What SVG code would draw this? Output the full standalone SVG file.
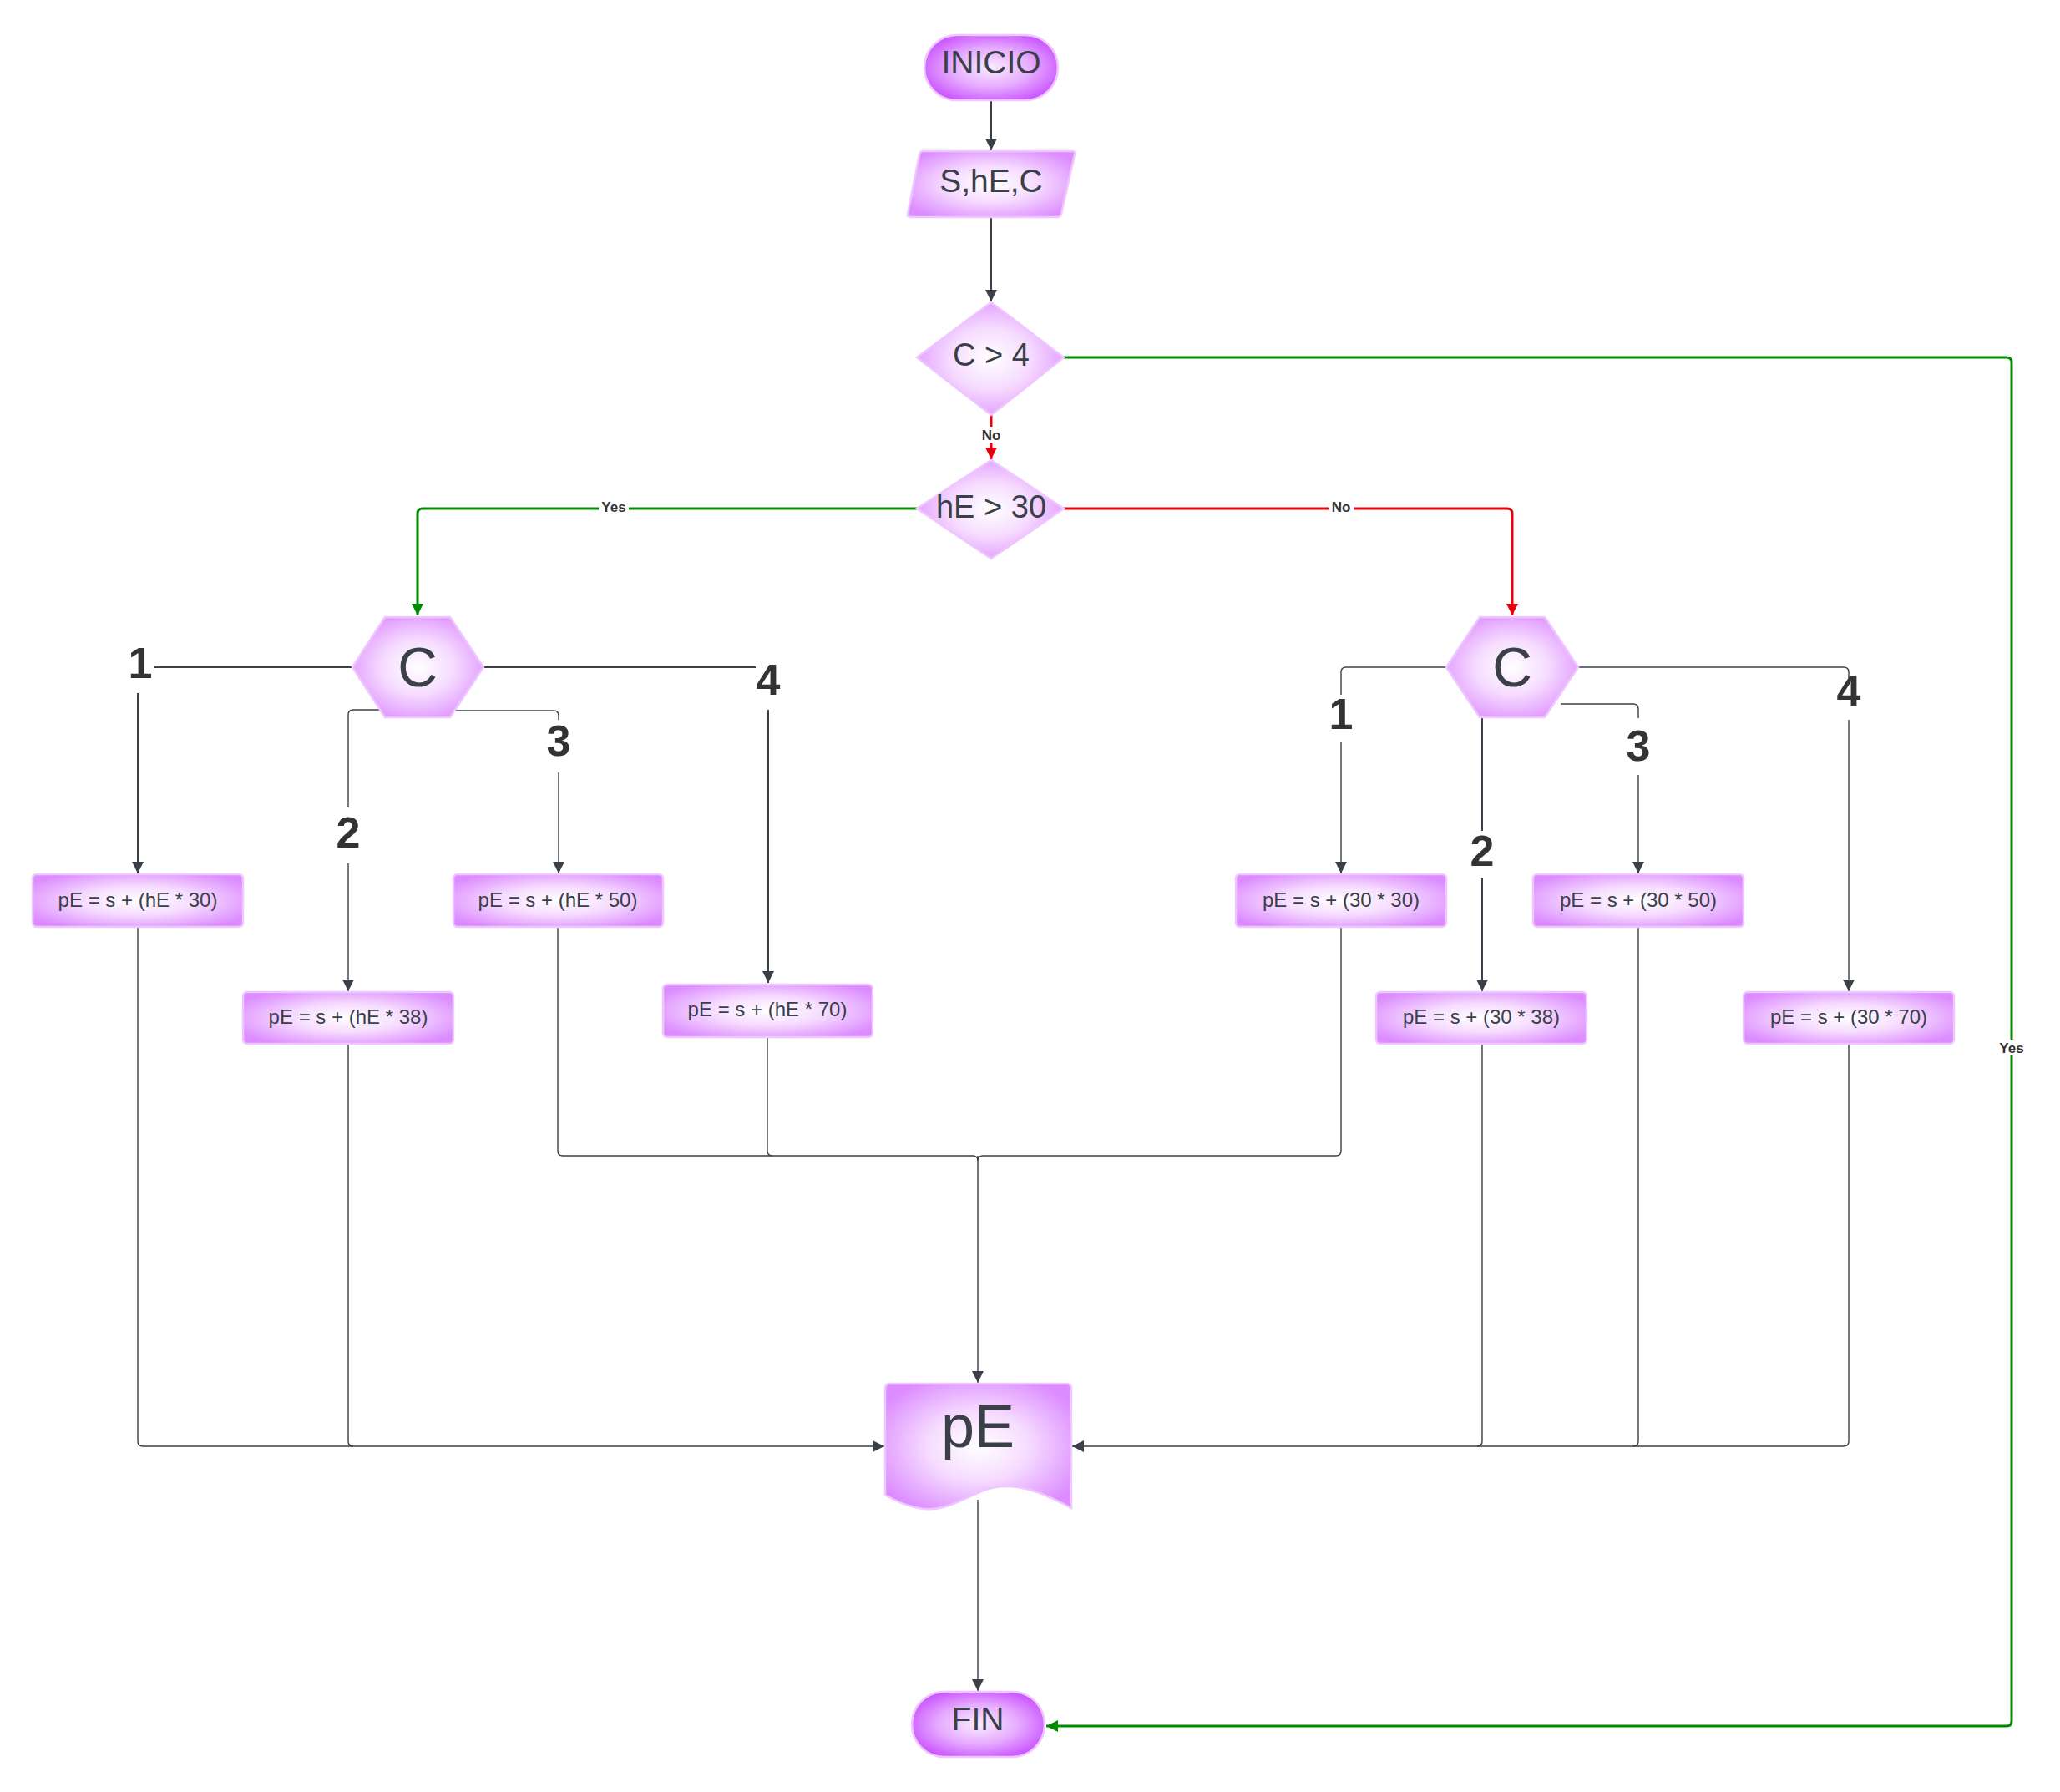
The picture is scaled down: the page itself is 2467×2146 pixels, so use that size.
<svg xmlns="http://www.w3.org/2000/svg" width="2467" height="2146" viewBox="0 0 2467 2146">
<defs>
<radialGradient id="gBox" cx="50%" cy="50%" r="60%">
<stop offset="0" stop-color="#ffffff"/>
<stop offset="0.45" stop-color="#f6dcff"/>
<stop offset="1" stop-color="#dc8cff"/>
</radialGradient>
<radialGradient id="gTerm" cx="50%" cy="50%" r="60%">
<stop offset="0" stop-color="#faecff"/>
<stop offset="0.5" stop-color="#e6abff"/>
<stop offset="1" stop-color="#c548ff"/>
</radialGradient>
<marker id="aG" viewBox="0 0 10 10" refX="10" refY="5" markerWidth="16" markerHeight="14" markerUnits="userSpaceOnUse" orient="auto">
<path d="M0,0 L10,5 L0,10 z" fill="#008a00"/>
</marker>
<marker id="aR" viewBox="0 0 10 10" refX="10" refY="5" markerWidth="16" markerHeight="14" markerUnits="userSpaceOnUse" orient="auto">
<path d="M0,0 L10,5 L0,10 z" fill="#e8000c"/>
</marker>
<marker id="aK" viewBox="0 0 10 10" refX="10" refY="5" markerWidth="16" markerHeight="14" markerUnits="userSpaceOnUse" orient="auto">
<path d="M0,0 L10,5 L0,10 z" fill="#3a3f48"/>
</marker>
</defs>
<style>
.shape{fill:url(#gBox);stroke:#f0c6ff;stroke-width:2.5}
.term{fill:url(#gTerm);stroke:#f0c6ff;stroke-width:2.5}
.t{font-family:"Liberation Sans",Arial,sans-serif;fill:#3a3f48;text-anchor:middle}
.big{font-size:39px}
.box{font-size:24px}
.num{font-family:"Liberation Sans",Arial,sans-serif;font-weight:bold;font-size:52px;fill:#333333;text-anchor:middle}
.lbl{font-family:"Liberation Sans",Arial,sans-serif;font-weight:bold;font-size:17px;fill:#333333;text-anchor:middle}
.c{fill:none;stroke:#3a3f48;stroke-width:2}
.cf{fill:none;stroke:#3a3f48;stroke-width:1.4}
.g{fill:none;stroke:#008a00;stroke-width:3}
.r{fill:none;stroke:#e8000c;stroke-width:3}
</style>
<rect width="2467" height="2146" fill="#ffffff"/>

<g id="connectors">
<path class="c" d="M1187,120 V180" marker-end="url(#aK)"/>
<path class="c" d="M1187,260 V361" marker-end="url(#aK)"/>
<path class="r" d="M1187,497 V550" marker-end="url(#aR)"/>
<path class="g" d="M1098,609 H506 Q500,609 500,615 V737" marker-end="url(#aG)"/>
<path class="r" d="M1274,609 H1805 Q1811,609 1811,615 V737" marker-end="url(#aR)"/>
<path class="g" d="M1274,428 H2403 Q2409,428 2409,434 V2061 Q2409,2067 2403,2067 H1253" marker-end="url(#aG)"/>

<path class="c" d="M422,799 H185"/>
<path class="c" d="M165,830 V1046" marker-end="url(#aK)"/>
<path class="cf" d="M455,850 H423 Q417,850 417,856 V967"/>
<path class="cf" d="M417,1034 V1187" marker-end="url(#aK)"/>
<path class="cf" d="M544,851 H663 Q669,851 669,857 V862"/>
<path class="cf" d="M669,925 V1046" marker-end="url(#aK)"/>
<path class="c" d="M579,799 H905"/>
<path class="c" d="M920,850 V1177" marker-end="url(#aK)"/>

<path class="cf" d="M1732,799 H1612 Q1606,799 1606,805 V832"/>
<path class="cf" d="M1606,888 V1046" marker-end="url(#aK)"/>
<path class="c" d="M1775,859 V995"/>
<path class="c" d="M1775,1052 V1187" marker-end="url(#aK)"/>
<path class="cf" d="M1869,843 H1956 Q1962,843 1962,849 V860"/>
<path class="cf" d="M1962,928 V1046" marker-end="url(#aK)"/>
<path class="cf" d="M1890,799 H2208 Q2214,799 2214,805 V812"/>
<path class="cf" d="M2214,862 V1187" marker-end="url(#aK)"/>

<path class="cf" d="M668,1110 V1378 Q668,1384 674,1384 H1165 Q1171,1384 1171,1390"/>
<path class="cf" d="M919,1242 V1378 Q919,1384 925,1384"/>
<path class="cf" d="M1606,1110 V1378 Q1606,1384 1600,1384 H1177 Q1171,1384 1171,1390"/>
<path class="cf" d="M1171,1384 V1656" marker-end="url(#aK)"/>

<path class="cf" d="M165,1110 V1726 Q165,1732 171,1732 H1059" marker-end="url(#aK)"/>
<path class="cf" d="M417,1250 V1726 Q417,1732 423,1732"/>
<path class="cf" d="M1775,1250 V1726 Q1775,1732 1769,1732"/>
<path class="cf" d="M1962,1110 V1726 Q1962,1732 1956,1732"/>
<path class="cf" d="M2214,1250 V1726 Q2214,1732 2208,1732 H1284" marker-end="url(#aK)"/>

<path class="cf" d="M1171,1796 V2025" marker-end="url(#aK)"/>

<rect x="1172" y="511" width="30" height="19" fill="#ffffff"/>
<text class="lbl" x="1187" y="527">No</text>
<rect x="717" y="597" width="36" height="19" fill="#ffffff"/>
<text class="lbl" x="735" y="613">Yes</text>
<rect x="1591" y="597" width="30" height="19" fill="#ffffff"/>
<text class="lbl" x="1606" y="613">No</text>
<rect x="2391" y="1245" width="36" height="19" fill="#ffffff"/>
<text class="lbl" x="2409" y="1261">Yes</text>

<text class="num" x="168" y="812">1</text>
<text class="num" x="417" y="1015">2</text>
<text class="num" x="669" y="905">3</text>
<text class="num" x="920" y="832">4</text>
<text class="num" x="1606" y="873">1</text>
<text class="num" x="1775" y="1037">2</text>
<text class="num" x="1962" y="911">3</text>
<text class="num" x="2214" y="845">4</text>
</g>

<g id="inicio">
<rect class="term" x="1107" y="42" width="160" height="78" rx="39"/>
<text class="t big" x="1187" y="88">INICIO</text>
</g>
<g id="input">
<path class="shape" d="M1105,181 H1284 Q1288,181 1287,185 L1271,256 Q1270,260 1266,260 H1091 Q1086,260 1087,256 L1101,185 Q1102,181 1105,181 Z"/>
<text class="t big" x="1187" y="230">S,hE,C</text>
</g>
<g id="dec1">
<path class="shape" d="M1187,362 L1274,428 L1187,497 L1098,428 Z"/>
<text class="t" style="font-size:38px" x="1187" y="438">C &gt; 4</text>
</g>
<g id="dec2">
<path class="shape" d="M1187,551 L1274,609 L1187,669 L1098,609 Z"/>
<text class="t" style="font-size:38px" x="1187" y="620">hE &gt; 30</text>
</g>
<g id="hexL">
<path class="shape" d="M422,799 L461,739 H539 L579,799 L539,859 H461 Z"/>
<text class="t" style="font-size:66px" x="500" y="822">C</text>
</g>
<g id="hexR">
<path class="shape" d="M1732,799 L1772,739 H1850 L1890,799 L1850,859 H1772 Z"/>
<text class="t" style="font-size:66px" x="1811" y="822">C</text>
</g>

<g id="b30">
<rect class="shape" x="39" y="1047" width="252" height="63" rx="5"/>
<text class="t box" x="165" y="1086">pE = s + (hE * 30)</text>
</g>
<g id="b38">
<rect class="shape" x="291" y="1188" width="252" height="62" rx="5"/>
<text class="t box" x="417" y="1226">pE = s + (hE * 38)</text>
</g>
<g id="b50">
<rect class="shape" x="543" y="1047" width="251" height="63" rx="5"/>
<text class="t box" x="668" y="1086">pE = s + (hE * 50)</text>
</g>
<g id="b70">
<rect class="shape" x="794" y="1179" width="251" height="63" rx="5"/>
<text class="t box" x="919" y="1217">pE = s + (hE * 70)</text>
</g>
<g id="r30">
<rect class="shape" x="1480" y="1047" width="252" height="63" rx="5"/>
<text class="t box" x="1606" y="1086">pE = s + (30 * 30)</text>
</g>
<g id="r38">
<rect class="shape" x="1648" y="1188" width="252" height="62" rx="5"/>
<text class="t box" x="1774" y="1226">pE = s + (30 * 38)</text>
</g>
<g id="r50">
<rect class="shape" x="1836" y="1047" width="252" height="63" rx="5"/>
<text class="t box" x="1962" y="1086">pE = s + (30 * 50)</text>
</g>
<g id="r70">
<rect class="shape" x="2088" y="1188" width="252" height="62" rx="5"/>
<text class="t box" x="2214" y="1226">pE = s + (30 * 70)</text>
</g>

<g id="doc">
<path class="shape" d="M1060,1663 Q1060,1657 1066,1657 H1277 Q1283,1657 1283,1663 V1806 C1250,1788 1215,1772 1180,1784 C1150,1796 1130,1812 1100,1806 C1080,1802 1068,1795 1060,1790 Z"/>
<text class="t" style="font-size:72px" x="1171" y="1733">pE</text>
</g>
<g id="fin">
<rect class="term" x="1092" y="2026" width="159" height="78" rx="39"/>
<text class="t big" x="1171" y="2072">FIN</text>
</g>
</svg>
